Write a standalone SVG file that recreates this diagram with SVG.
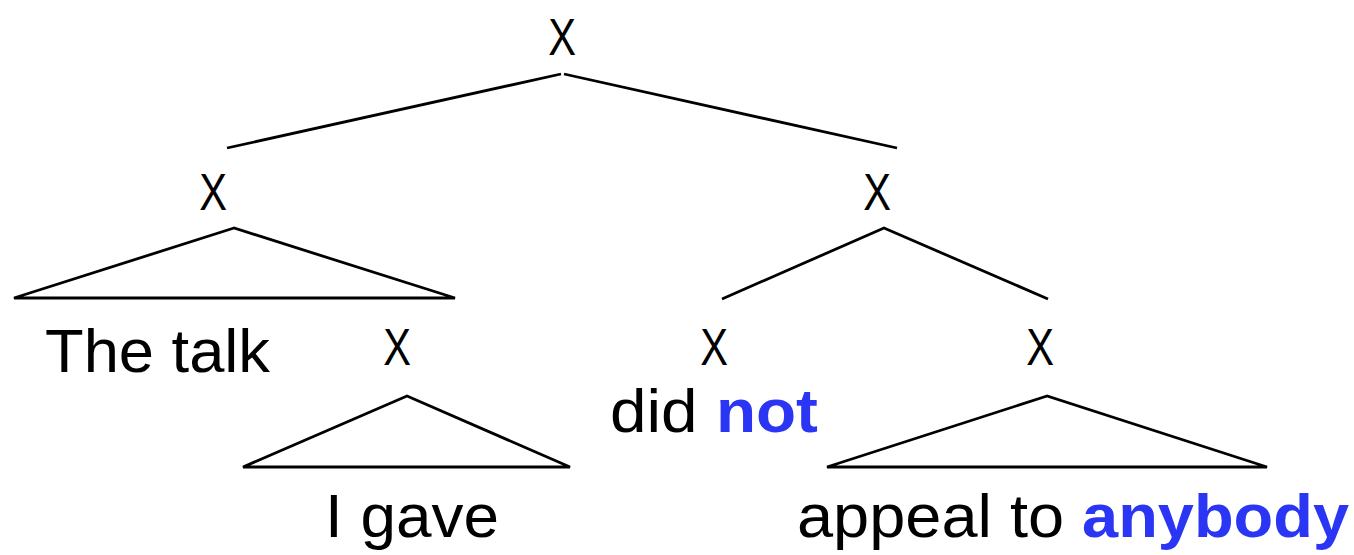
<svg xmlns="http://www.w3.org/2000/svg" width="1354" height="555" viewBox="0 0 1354 555">
<style>
  .lbl { font-family: "Liberation Sans", Arial, sans-serif; font-size: 52px; fill: #000; text-anchor: middle; }
  .txt { font-family: "Liberation Sans", Arial, sans-serif; font-size: 61px; fill: #000; }
  .hl { font-weight: bold; fill: #2a36f4; }
  .edge { stroke: #000; stroke-width: 2.8; fill: none; stroke-linejoin: miter; }
</style>
<rect width="1354" height="555" fill="#fff"/>
<g id="connectors">
  <polyline class="edge" points="227,148 561,74"/>
  <polyline class="edge" points="564,74 897,148"/>
  <polygon class="edge" points="234,228 14,298 455,298"/>
  <polyline class="edge" points="722,299 884,228 1048,299"/>
  <polygon class="edge" points="407,396 243,467 570,467"/>
  <polygon class="edge" points="1047,396 827,467 1267,467"/>
</g>
<g id="n-root"><text class="lbl" transform="translate(562,55) scale(0.8,1)">X</text></g>
<g id="n-left"><text class="lbl" transform="translate(213,210) scale(0.8,1)">X</text></g>
<g id="n-right"><text class="lbl" transform="translate(877,210) scale(0.8,1)">X</text></g>
<g id="n-thetalk"><text class="txt" x="45" y="372" textLength="225" lengthAdjust="spacingAndGlyphs">The talk</text></g>
<g id="n-rel"><text class="lbl" transform="translate(397,365) scale(0.8,1)">X</text></g>
<g id="n-igave"><text class="txt" x="325" y="537" textLength="174" lengthAdjust="spacingAndGlyphs">I gave</text></g>
<g id="n-didnot">
  <text class="lbl" transform="translate(714,365) scale(0.8,1)">X</text>
  <text class="txt" x="610" y="432" textLength="208" lengthAdjust="spacingAndGlyphs">did <tspan class="hl">not</tspan></text>
</g>
<g id="n-vp">
  <text class="lbl" transform="translate(1040,365) scale(0.8,1)">X</text>
  <text class="txt" x="797" y="537" textLength="552" lengthAdjust="spacingAndGlyphs">appeal to <tspan class="hl">anybody</tspan></text>
</g>
</svg>
